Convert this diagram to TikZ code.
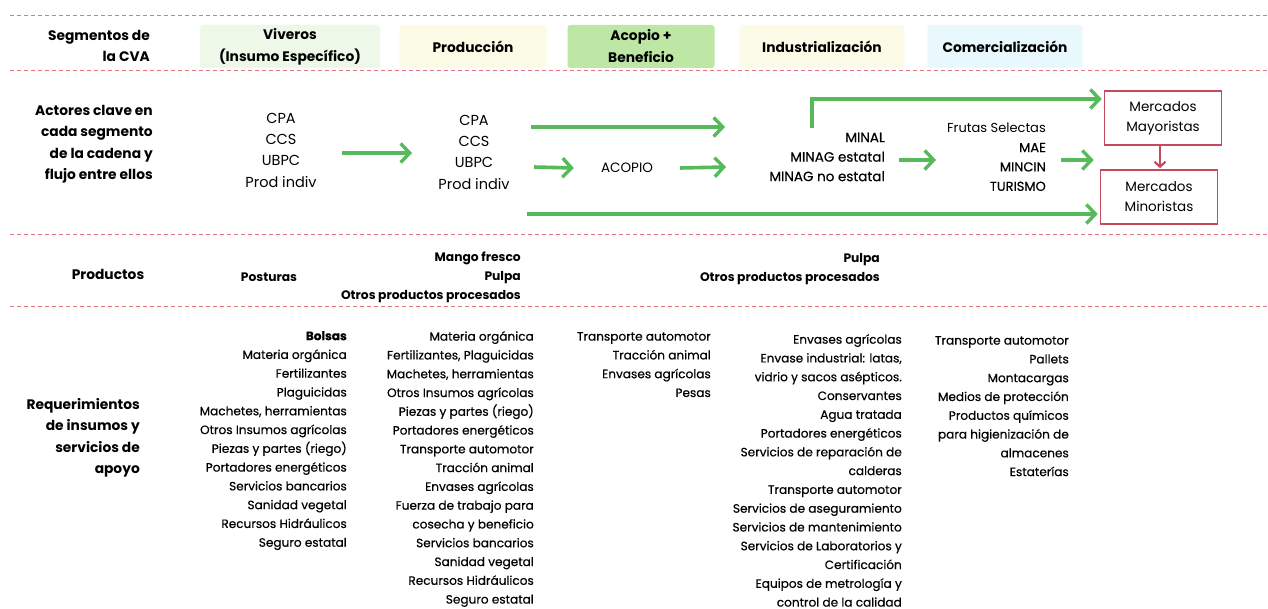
\documentclass[tikz,border=0pt]{standalone}
\usepackage{fontspec}
\setmainfont{Poppins}
\newfontfamily\medfont{Poppins}[FakeBold=0.4]
\usetikzlibrary{arrows.meta}
\definecolor{dashred}{RGB}{226,118,128}
\definecolor{garr}{RGB}{86,186,92}
\definecolor{boxred}{RGB}{196,74,92}
\definecolor{vivfill}{RGB}{238,248,233}
\definecolor{prdfill}{RGB}{251,251,230}
\definecolor{acofill}{RGB}{190,230,164}
\definecolor{indfill}{RGB}{252,251,232}
\definecolor{comfill}{RGB}{232,248,252}
\tikzset{
  sepline/.style={draw=dashred, line width=0.9pt, dash pattern=on 4pt off 3pt},
  hdrbox/.style={rounded corners=3pt, inner sep=0pt, align=center, font=\bfseries\fontsize{13.8}{22}\selectfont},
  lbl/.style={inner sep=0pt, align=right, font=\bfseries\fontsize{13.8}{21.5}\selectfont},
  actor/.style={inner sep=0pt, align=center, font=\fontsize{14.5}{21.3}\selectfont},
  actorr/.style={inner sep=0pt, align=right, font=\medfont\fontsize{13.5}{19.5}\selectfont},
  prodtxt/.style={inner sep=0pt, align=right, font=\bfseries\fontsize{12.3}{19}\selectfont},
  col/.style={inner sep=0pt, align=right, anchor=north east, font=\medfont\fontsize{12.1}{18.78}\selectfont},
  garrow/.style={draw=garr, line width=3.6pt, -{Straight Barb[length=9pt,width=19pt,line width=3.4pt]}},
  rarrow/.style={draw=boxred, line width=2.2pt, -{Straight Barb[length=5pt,width=11pt,line width=2.2pt]}},
  mkt/.style={draw=boxred, line width=1.6pt, inner sep=0pt, align=center, minimum width=117pt, minimum height=54pt, font=\fontsize{13.5}{20}\selectfont}
}
\begin{document}
\begin{tikzpicture}[x=1pt,y=-1pt]
\useasboundingbox[fill=white] (0,0) rectangle (1268,609);
% separators
\draw[sepline] (10,15) -- (1268,15);
\draw[sepline] (10,70) -- (1268,70);
\draw[sepline] (10,234) -- (1268,234);
\draw[sepline] (10,306) -- (1268,306);
% row 1 headers
\node[lbl, anchor=east] (seg) at (150,46) {Segmentos de\\la CVA};
\node[hdrbox, fill=vivfill, minimum width=180pt, minimum height=43pt] (hviv) at (290,46.5) {Viveros\\(Insumo Específico)};
\node[hdrbox, fill=prdfill, minimum width=147pt, minimum height=43pt] (hprd) at (473,46.5) {Producción};
\node[hdrbox, fill=acofill, minimum width=147pt, minimum height=43pt] (haco) at (641,46.5) {Acopio +\\Beneficio};
\node[hdrbox, fill=indfill, minimum width=165pt, minimum height=43pt] (hind) at (822,46.5) {Industrialización};
\node[hdrbox, fill=comfill, minimum width=155pt, minimum height=43pt] (hcom) at (1005,46.5) {Comercialización};
% row 2
\node[lbl, anchor=east] (act) at (153,144) {Actores clave en\\cada segmento\\de la cadena y\\flujo entre ellos};
\node[actor] (viva) at (281,150) {CPA\\CCS\\UBPC\\Prod indiv};
\node[actor] (prda) at (474,152) {CPA\\CCS\\UBPC\\Prod indiv};
\node[inner sep=0pt, font=\fontsize{13.5}{14}\selectfont] (acop) at (627,168) {ACOPIO};
\node[actorr, anchor=east] (minal) at (885,157) {MINAL\\MINAG estatal\\MINAG no estatal};
\node[inner sep=0pt, align=right, anchor=east, font=\fontsize{13}{19.4}\selectfont] (frut) at (1046,157) {Frutas Selectas\\{\medfont MAE}\\{\medfont MINCIN}\\{\medfont TURISMO}};
\node[mkt] (mayor) at (1163,118) {Mercados\\Mayoristas};
\node[mkt] (minor) at (1159,197) {Mercados\\Minoristas};
% arrows row 2
\coordinate (a1s) at (342,153); \coordinate (a1e) at (412,153);
\draw[garrow] (a1s) -- (a1e);
\coordinate (a2s) at (531,127); \coordinate (a2e) at (725,127);
\draw[garrow] (a2s) -- (a2e);
\coordinate (a3s) at (534,167);
\draw[garrow] (a3s) -- ([xshift=-27pt]acop.west);
\coordinate (a4e) at (726,167);
\draw[garrow] ([xshift=27pt]acop.east) -- (a4e);
\coordinate (a5s) at (527,214);
\draw[garrow] (a5s) -- ([xshift=-2pt]a5s -| minor.west);
\coordinate (a6s) at (812,128);
\draw[garrow] (a6s) |- ([xshift=-2pt,yshift=19pt]mayor.west);
\coordinate (a7s) at (899,160); \coordinate (a7e) at (936,160);
\draw[garrow] (a7s) -- (a7e);
\coordinate (a8s) at (1061,160);
\draw[garrow] (a8s) -- ([xshift=-6pt]a8s -| minor.west);
\draw[rarrow] (mayor.south -| 1160,0) -- ([yshift=1pt]minor.north -| 1160,0);
% row 3
\node[lbl] (prodl) at (108,274) {Productos};
\node[prodtxt] (post) at (269,277) {Posturas};
\node[prodtxt, anchor=east] (mango) at (521,277) {Mango fresco\\Pulpa\\Otros productos procesados};
\node[prodtxt, anchor=east] (pulpa) at (880,269) {Pulpa\\Otros productos procesados};
% row 4
\node[lbl, anchor=east] (req) at (140,438) {Requerimientos\\de insumos y\\servicios de\\apoyo};
\node[col] (c1) at (347,331) {{\bfseries Bolsas}\\Materia orgánica\\Fertilizantes\\Plaguicidas\\Machetes, herramientas\\Otros Insumos agrícolas\\Piezas y partes (riego)\\Portadores energéticos\\Servicios bancarios\\Sanidad vegetal\\Recursos Hidráulicos\\Seguro estatal};
\node[col] (c2) at (534,331) {Materia orgánica\\Fertilizantes, Plaguicidas\\Machetes, herramientas\\Otros Insumos agrícolas\\Piezas y partes (riego)\\Portadores energéticos\\Transporte automotor\\Tracción animal\\Envases agrícolas\\Fuerza de trabajo para\\cosecha y beneficio\\Servicios bancarios\\Sanidad vegetal\\Recursos Hidráulicos\\Seguro estatal};
\node[col] (c3) at (711,332) {Transporte automotor\\Tracción animal\\Envases agrícolas\\Pesas};
\node[col] (c4) at (902,334) {Envases agrícolas\\Envase industrial: latas,\\vidrio y sacos asépticos.\\Conservantes\\Agua tratada\\Portadores energéticos\\Servicios de reparación de\\calderas\\Transporte automotor\\Servicios de aseguramiento\\Servicios de mantenimiento\\Servicios de Laboratorios y\\Certificación\\Equipos de metrología y\\control de la calidad};
\node[col] (c5) at (1069,336) {Transporte automotor\\Pallets\\Montacargas\\Medios de protección\\Productos químicos\\para higienización de\\almacenes\\Estaterías};
\end{tikzpicture}
\end{document}
